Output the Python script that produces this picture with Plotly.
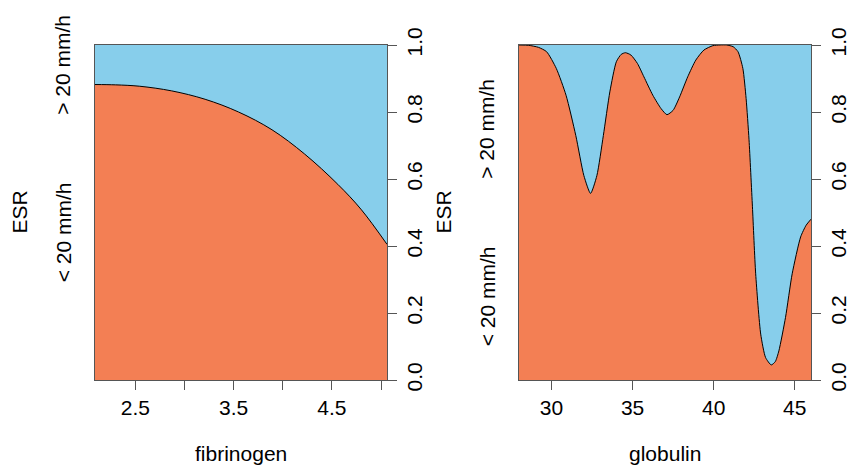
import plotly.graph_objects as go

# ---- data ----
fib_x = [2.09, 2.30, 2.54, 2.87, 3.21, 3.55, 3.89, 4.22, 4.56, 4.80, 5.06]
fib_p = [0.882, 0.881, 0.877, 0.863, 0.838, 0.800, 0.747, 0.675, 0.584, 0.508, 0.405]

glob_x = [28.0, 28.6, 29.2, 29.7, 30.3, 30.9, 31.5, 32.0, 32.41, 32.8, 33.2, 33.6, 34.0,
          34.3, 34.56, 34.9, 35.3, 35.7, 36.25, 36.76, 37.12, 37.5, 37.9, 38.4, 38.9,
          39.4, 39.95, 40.4, 40.8, 41.2, 41.5, 41.8, 42.0, 42.18, 42.39, 42.59, 42.9,
          43.2, 43.55, 43.8, 44.02, 44.43, 44.84, 45.36, 45.7, 46.0]
glob_p = [1.0, 0.999, 0.993, 0.98, 0.93, 0.85, 0.73, 0.61, 0.557, 0.61, 0.73, 0.86, 0.95,
          0.972, 0.977, 0.97, 0.945, 0.905, 0.85, 0.81, 0.792, 0.805, 0.845, 0.905, 0.955,
          0.985, 0.998, 1.0, 1.0, 0.995, 0.98, 0.93, 0.84, 0.717, 0.517, 0.317, 0.137,
          0.067, 0.045, 0.055, 0.087, 0.187, 0.317, 0.427, 0.462, 0.48]

levels = ["< 20 mm/h", "> 20 mm/h"]
fib_xticks = [2.5, 3.0, 3.5, 4.0, 4.5, 5.0]
fib_xlabels = ["2.5", "", "3.5", "", "4.5", ""]
glob_xticks = [30, 35, 40, 45]
y_ticks = [0.0, 0.2, 0.4, 0.6, 0.8, 1.0]
y_labels = ["0.0", "0.2", "0.4", "0.6", "0.8", "1.0"]

ORANGE = "#F37F54"
BLUE = "#87CEEB"
FONT = "Liberation Sans, Arial, sans-serif"
FS = 21

fig = go.Figure()
fig.add_trace(go.Scatter(x=fib_x, y=fib_p, mode="lines", fill="tozeroy",
                         fillcolor=ORANGE, line=dict(color="black", width=1, shape="spline"),
                         xaxis="x", yaxis="y", hoverinfo="skip", showlegend=False))
fig.add_trace(go.Scatter(x=glob_x, y=glob_p, mode="lines", fill="tozeroy",
                         fillcolor=ORANGE, line=dict(color="black", width=1, shape="spline", smoothing=0.6),
                         xaxis="x2", yaxis="y2", hoverinfo="skip", showlegend=False))

dom_y = [85 / 465, 420 / 465]
axcommon = dict(showgrid=False, zeroline=False, showline=True, linecolor="#555555",
                linewidth=1, mirror=True, ticks="outside", ticklen=9, tickcolor="#555555",
                automargin=False,
                tickfont=dict(family=FONT, size=FS, color="black"))

fig.update_layout(
    width=853, height=465,
    margin=dict(l=0, r=0, t=0, b=0),
    paper_bgcolor="white", plot_bgcolor=BLUE,
    font=dict(family=FONT, size=FS, color="black"),
    xaxis=dict(domain=[95 / 853, 387 / 853], range=[min(fib_x), max(fib_x)],
               tickvals=fib_xticks, ticktext=fib_xlabels, anchor="y", **axcommon),
    yaxis=dict(domain=dom_y, range=[0, 1], side="right", tickvals=y_ticks,
               ticktext=y_labels, tickangle=-90, anchor="x", **axcommon),
    xaxis2=dict(domain=[519 / 853, 811 / 853], range=[min(glob_x), max(glob_x)],
                tickvals=glob_xticks, ticktext=[str(v) for v in glob_xticks],
                anchor="y2", **axcommon),
    yaxis2=dict(domain=dom_y, range=[0, 1], side="right", tickvals=y_ticks,
                ticktext=y_labels, tickangle=-90, anchor="x2", **axcommon),
)


def cat_positions(p0):
    gaps = [p0, 1 - p0]
    if min(gaps) < 0.05:
        return [0.25, 0.75]
    return [p0 / 2, (p0 + 1) / 2]


ann = []
for (xname, yname, xs, ps, left_px, title) in [
    ("x", "y", fib_x, fib_p, 95, "fibrinogen"),
    ("x2", "y2", glob_x, glob_p, 519, "globulin"),
]:
    pos = cat_positions(ps[0])
    for lab, yp in zip(levels, pos):
        ann.append(dict(text=lab, x=(left_px - 32) / 853, xref="paper", y=yp, yref=yname,
                        textangle=-90, showarrow=False, xanchor="center", yanchor="middle",
                        font=dict(size=FS)))
    ann.append(dict(text="ESR", x=(left_px - 76) / 853, xref="paper", y=0.5, yref=yname,
                    textangle=-90, showarrow=False, xanchor="center", yanchor="middle",
                    font=dict(size=FS)))
    ann.append(dict(text=title, x=left_px / 853 + 146 / 853, xref="paper", y=(465 - 453) / 465,
                    yref="paper", showarrow=False, xanchor="center", yanchor="middle",
                    font=dict(size=FS)))
fig.update_layout(annotations=ann)

fig.write_html("out.html", config={"displayModeBar": False},
               post_script="document.body.style.margin='0';document.body.style.overflow='hidden';")
